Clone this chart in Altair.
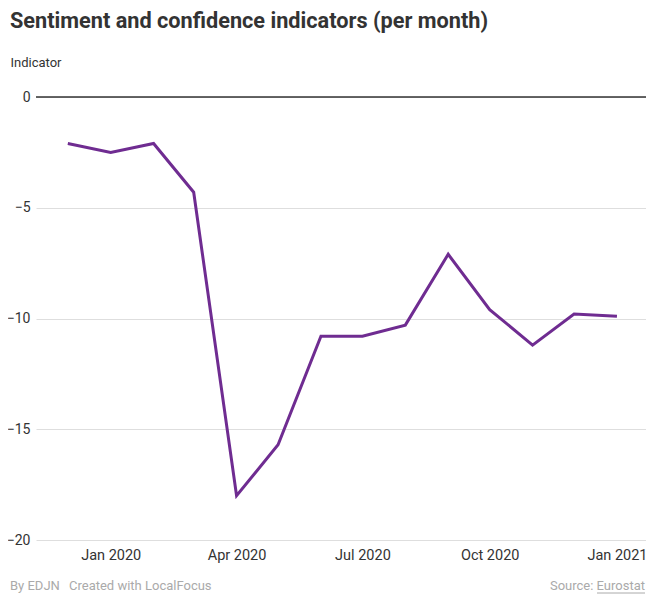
import altair as alt
import pandas as pd

months = ["2019-12-01", "2020-01-01", "2020-02-01", "2020-03-01", "2020-04-01",
          "2020-05-01", "2020-06-01", "2020-07-01", "2020-08-01", "2020-09-01",
          "2020-10-01", "2020-11-01", "2020-12-01", "2021-01-01"]
values = [-2.1, -2.5, -2.1, -4.3, -18.0, -15.7, -10.8, -10.8, -10.3, -7.1,
          -9.6, -11.2, -9.8, -9.9]
y_ticks = [0, -5, -10, -15, -20]
x_ticks = ["2020-01-01", "2020-04-01", "2020-07-01", "2020-10-01", "2021-01-01"]

title_text = "Sentiment and confidence indicators (per month)"
y_title = "Indicator"
footer_left = "By EDJN"
footer_mid = "Created with LocalFocus"
footer_right = "Source: Eurostat"

df = pd.DataFrame({"month": pd.to_datetime(months), "value": values})
zero = pd.DataFrame({"value": [0]})

FONT = "Roboto"
W, H = 610, 443

x_scale = alt.Scale(domain=[pd.Timestamp("2019-11-08").isoformat(), pd.Timestamp("2021-01-22").isoformat()])
y_scale = alt.Scale(domain=[-20, 0])

x_enc = alt.X("month:T", scale=x_scale,
              axis=alt.Axis(values=[pd.Timestamp(v).isoformat() for v in x_ticks], format="%b %Y",
                            title=None, grid=False, domain=False, ticks=False,
                            labelFont=FONT, labelFontSize=14.5, labelColor="#333",
                            labelPadding=8))
y_enc = alt.Y("value:Q", scale=y_scale,
              axis=alt.Axis(values=y_ticks, title=y_title, titleAngle=0, titleAlign="left",
                            titleBaseline="middle", titleX=-26, titleY=-35,
                            titleFont=FONT, titleFontSize=13, titleFontWeight="normal",
                            titleColor="#333",
                            grid=True, gridColor="#dedede", domain=False, ticks=False,
                            labelFont=FONT, labelFontSize=14, labelColor="#333",
                            labelPadding=6))

line = alt.Chart(df).mark_line(color="#6f2c91", strokeWidth=3, strokeJoin="miter").encode(x=x_enc, y=y_enc)

zero_rule = alt.Chart(zero).mark_rule(color="#333", strokeWidth=1.5).encode(y=alt.Y("value:Q", scale=y_scale))

def txt(text, x, y, size=13, color="#aaa", weight="normal", align="left", baseline="middle"):
    return alt.Chart(pd.DataFrame({"t": [text]})).mark_text(
        font=FONT, fontSize=size, color=color, fontWeight=weight, align=align, baseline=baseline
    ).encode(x=alt.value(x), y=alt.value(y), text="t:N")

title = txt(title_text, -26, -69, size=21.7, color="#333", weight="bold", baseline="alphabetic")
f1 = txt(footer_left, -26, 489)
f2 = txt(footer_mid, 33, 489)
f3 = txt(footer_right, 609, 489, align="right")
underline = alt.Chart(pd.DataFrame({"a": [0]})).mark_rule(color="#aaa", strokeWidth=1).encode(
    x=alt.value(561), x2=alt.value(609), y=alt.value(496))

chart = alt.layer(zero_rule, line, title, f1, f2, f3, underline).properties(
    width=W, height=H,
    autosize=alt.AutoSizeParams(type="none"),
    padding={"left": 28, "top": 89, "right": 0, "bottom": 54},
).configure_view(stroke=None)

chart.save("out.html", embed_options={"renderer": "svg", "actions": False})
